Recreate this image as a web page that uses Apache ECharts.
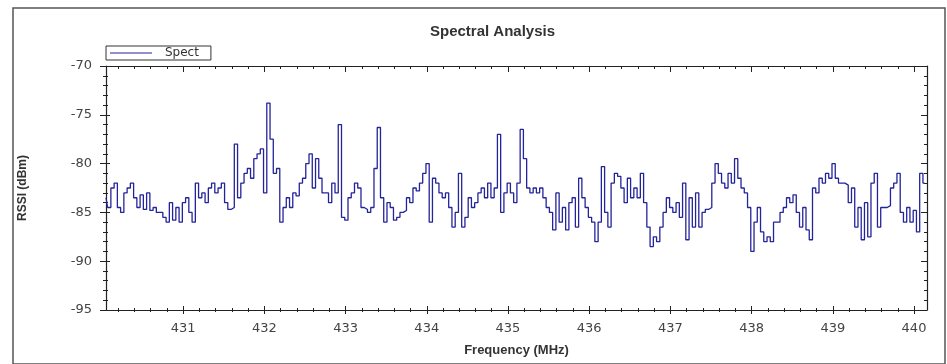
<!DOCTYPE html>
<html>
<head>
<meta charset="utf-8">
<title>Spectral Analysis</title>
<script src="https://cdn.jsdelivr.net/npm/echarts@6/dist/echarts.min.js"></script>
<style>
  html, body { margin: 0; padding: 0; background: #fff; }
  #chart1 { width: 947px; height: 364px; }
</style>
</head>
<body>
<div id="chart1"></div>
<script>
// sweep settings (MHz)
const startFreq = 430.05
const stepFreq = 0.04

// RSSI readings (dBm), one per sweep step
const rssi = [
  -83.5, -84.5, -82.5, -82, -84.5, -85, -83, -82.5, -82, -83.5,
  -84.5, -83.2, -84.7, -83, -84.8, -84.5, -85, -85, -85.5, -86,
  -84, -85.8, -84.5, -86, -84, -83.5, -85, -86, -82, -83.5,
  -83, -84, -82.5, -82, -83, -82.5, -82, -84, -84.7, -84.5,
  -78, -83.5, -82, -81, -80.5, -81.5, -79.5, -79, -78.5, -83,
  -73.8, -77.5, -81, -80.5, -86, -84.5, -83.5, -84.5, -83, -83.3,
  -82, -81.5, -80, -79, -82.5, -79.5, -81.5, -83, -83, -84,
  -82, -83, -76, -85.5, -85.8, -83.5, -83, -82, -82.5, -84.5,
  -84.7, -85, -84.5, -80.5, -76.3, -83.5, -86, -84, -84.5, -85.8,
  -85.5, -85, -84.8, -83.5, -84, -82.5, -82.8, -82, -81, -80,
  -86, -81.5, -82, -83, -83.5, -83, -84.5, -86.5, -85, -81,
  -86.5, -85.5, -83.5, -84.5, -84, -83, -82.5, -83.5, -82, -83.5,
  -82.5, -77, -85, -83, -82, -83, -84, -82, -76.5, -79.5,
  -82.5, -83, -82.5, -83, -82.5, -83.5, -84.5, -85, -86.8, -83,
  -86, -84.5, -86.8, -84, -83.5, -86.5, -81.5, -83.5, -84.5, -85.5,
  -86, -88, -86, -80.3, -85, -86.5, -82, -81, -81.3, -82.5,
  -84, -81.5, -83.5, -82.5, -83.5, -81, -84, -86.5, -88.5, -87.5,
  -88, -86.5, -85, -83.5, -84.5, -85, -84, -85.5, -82, -87.8,
  -83.5, -86.5, -83, -86.5, -85, -84.7, -84.5, -82, -80, -81,
  -82, -82.5, -81, -82, -79.5, -81.5, -82.5, -83, -84.5, -89,
  -86, -84.5, -87, -88, -87.5, -88, -86, -86, -85, -84.5,
  -83.5, -84, -83.2, -85, -86.5, -84.5, -86.8, -87.8, -82.5, -83,
  -81.5, -82, -81, -81.5, -80, -81.5, -82, -82, -82.2, -84,
  -82.5, -86.5, -84.5, -87.8, -84, -87.5, -82, -81, -86.5, -84.5,
  -84.5, -84.3, -82.5, -82, -81, -85, -86, -84.5, -86, -84.8,
  -87, -81, -82
]

// axis ticks
const xMajorTicks = [431, 432, 433, 434, 435, 436, 437, 438, 439, 440]
const xMin = 430.05
const xMax = 440.16
const yMin = -95
const yMax = -70

const initChart = () => {
  const chart1 = echarts.init(document.getElementById('chart1'))
  chart1.setOption(getOptionChart1())
}

const getOptionChart1 = () => {
  const points = rssi.map((v, i) => [+(startFreq + i * stepFreq).toFixed(2), v])

  // minor ticks every 0.2 MHz, skipping the labelled ones
  const xMinorTicks = []
  for (let k = 2151; k <= 2200; k++) {
    const f = +(k * 0.2).toFixed(1)
    if (f > xMin && f < xMax && !xMajorTicks.includes(f)) xMinorTicks.push(f)
  }

  const tickFont = 'DejaVu Sans'
  const axisColor = '#222'
  const lineColor = '#23239a'

  const xBase = {
    type: 'value', gridIndex: 0, min: xMin, max: xMax,
    splitLine: { show: false },
    axisLabel: { show: false },
    axisLine: { show: false, onZero: false },
  }
  const yBase = {
    type: 'value', gridIndex: 0, min: yMin, max: yMax, interval: 5,
    splitLine: { show: false },
    axisLabel: { show: false },
    axisLine: { show: false, onZero: false },
  }

  return {
    animation: false,
    backgroundColor: '#fff',
    title: {
      text: 'Spectral Analysis',
      left: 425,
      top: 19,
      textStyle: { fontFamily: 'Liberation Sans', fontSize: 15, fontWeight: 'bold', color: '#333' }
    },
    legend: {
      data: [{ name: 'Spect', icon: 'path://M0,0 L42,0 L42,1 L0,1 Z' }],
      left: 106,
      top: 46,
      orient: 'horizontal',
      padding: [1, 12, 1, 4],
      itemWidth: 42,
      itemHeight: 1.5,
      itemGap: 0,
      borderColor: '#333',
      borderWidth: 1,
      textStyle: { fontFamily: tickFont, fontSize: 12, color: '#333', padding: [0, 0, 0, 8] }
    },
    grid: {
      left: 106,
      right: 20,
      top: 66,
      bottom: 54,
      containLabel: false
    },
    graphic: [
      {
        type: 'rect',
        z: -10,
        shape: { x: 13, y: 8, width: 932, height: 356 },
        style: { fill: 'none', stroke: '#555', lineWidth: 1.5 }
      }
    ],
    xAxis: [
      Object.assign({}, xBase, {
        position: 'bottom',
        name: 'Frequency (MHz)',
        nameLocation: 'middle',
        nameGap: 34,
        nameTextStyle: { fontFamily: 'Liberation Sans', fontSize: 13, fontWeight: 'bold', color: '#333' },
        axisLine: { show: true, onZero: false, lineStyle: { color: axisColor, width: 1.2 } },
        axisTick: { show: true, inside: false, length: 4, customValues: xMajorTicks, lineStyle: { color: axisColor } },
        axisLabel: { show: true, margin: 12, customValues: xMajorTicks, fontFamily: tickFont, fontSize: 13, color: '#444' }
      }),
      Object.assign({}, xBase, {
        position: 'bottom',
        axisTick: { show: true, inside: true, length: 4, customValues: xMajorTicks, lineStyle: { color: axisColor } }
      }),
      Object.assign({}, xBase, {
        position: 'bottom',
        axisTick: { show: true, inside: false, length: 2, customValues: xMinorTicks, lineStyle: { color: axisColor } }
      }),
      Object.assign({}, xBase, {
        position: 'bottom',
        axisTick: { show: true, inside: true, length: 2, customValues: xMinorTicks, lineStyle: { color: axisColor } }
      }),
      Object.assign({}, xBase, {
        position: 'top',
        axisLine: { show: true, onZero: false, lineStyle: { color: axisColor, width: 1.2 } },
        axisTick: { show: true, inside: true, length: 6, customValues: xMajorTicks, lineStyle: { color: axisColor } }
      }),
      Object.assign({}, xBase, {
        position: 'top',
        axisTick: { show: true, inside: true, length: 3, customValues: xMinorTicks, lineStyle: { color: axisColor } }
      })
    ],
    yAxis: [
      Object.assign({}, yBase, {
        position: 'left',
        name: 'RSSI (dBm)',
        nameLocation: 'middle',
        nameGap: 77,
        nameRotate: 90,
        nameTextStyle: { fontFamily: 'Liberation Sans', fontSize: 12, fontWeight: 'bold', color: '#333' },
        axisLine: { show: true, onZero: false, lineStyle: { color: axisColor, width: 1.2 } },
        axisTick: { show: true, inside: false, length: 6, lineStyle: { color: axisColor } },
        minorTick: { show: true, splitNumber: 5, length: 3, lineStyle: { color: axisColor } },
        axisLabel: { show: true, margin: 14, fontFamily: tickFont, fontSize: 13, color: '#444' }
      }),
      Object.assign({}, yBase, {
        position: 'left',
        axisTick: { show: true, inside: true, length: 4, lineStyle: { color: axisColor } },
        minorTick: { show: true, splitNumber: 5, length: 2, lineStyle: { color: axisColor } }
      }),
      Object.assign({}, yBase, {
        position: 'right',
        axisLine: { show: true, onZero: false, lineStyle: { color: axisColor, width: 1.2 } },
        axisTick: { show: true, inside: true, length: 6, lineStyle: { color: axisColor } },
        minorTick: { show: true, splitNumber: 5, length: 3, lineStyle: { color: axisColor } }
      })
    ],
    series: [
      {
        name: 'Spect',
        type: 'line',
        xAxisIndex: 0,
        yAxisIndex: 0,
        step: 'middle',
        symbol: 'none',
        color: lineColor,
        lineStyle: { width: 1.3, color: lineColor },
        data: points
      }
    ]
  }
}

if (typeof window !== 'undefined') {
  initChart()
}
</script>
</body>
</html>
